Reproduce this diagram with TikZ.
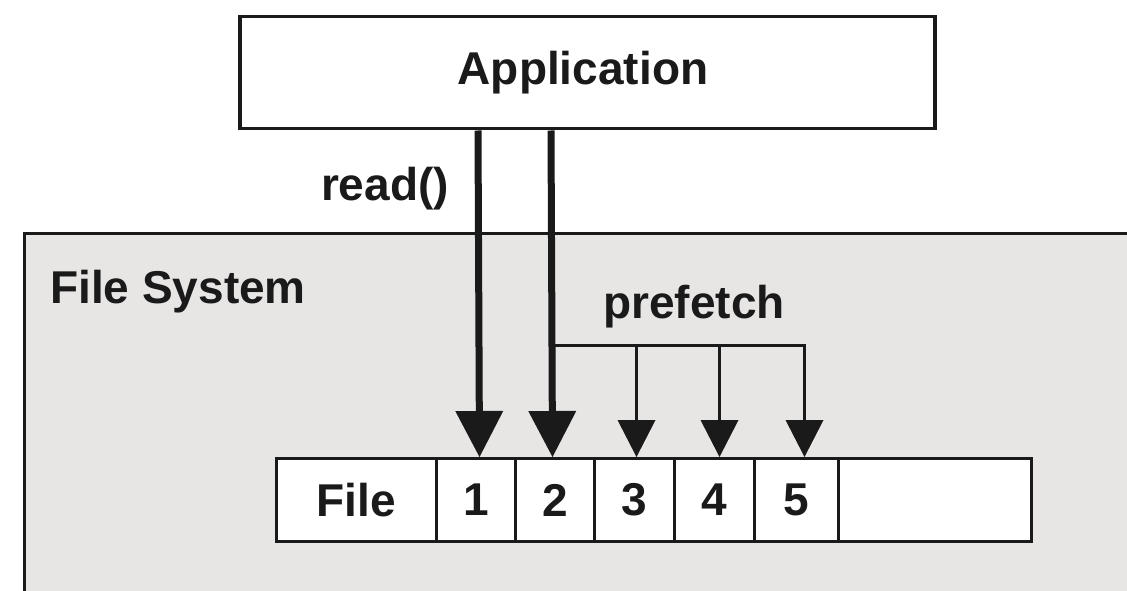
\documentclass[tikz,border=0pt]{standalone}
\usepackage{fontspec}
\setmainfont{Liberation Sans}
\usetikzlibrary{arrows.meta}
\definecolor{fsgray}{HTML}{E8E5E5}
\definecolor{ink}{HTML}{1A1A1A}
\tikzset{
  lbl/.style={font=\fontsize{46}{50}\selectfont\bfseries, text=ink, inner sep=0pt},
  box/.style={draw=ink, line width=3.5pt, fill=white, inner sep=0pt},
  cell/.style={draw=ink, line width=3pt, fill=white, inner sep=0pt,
    minimum height=83pt, font=\fontsize{46}{50}\selectfont\bfseries, text=ink},
  bigarrow/.style={draw=ink, line width=7pt,
    -{Triangle[width=48pt,length=46pt,line width=0pt]}},
  smallarrow/.style={draw=ink, line width=3pt,
    -{Triangle[width=38pt,length=37pt,line width=0pt]}},
}
\begin{document}
\begin{tikzpicture}[x=1pt,y=-1pt]
  \useasboundingbox (0,0) rectangle (1127,591);
  \fill[white] (0,0) rectangle (1127,591);

  % file system region, running off the right and bottom edges
  \node[draw=ink, line width=3pt, fill=fsgray, inner sep=0pt, anchor=north west,
        minimum width=1130pt, minimum height=380pt] (fs) at (23,232) {};
  \node[lbl, anchor=base west] (fslabel) at (50,303) {File System};

  % application box
  \node[box, minimum width=695pt, minimum height=112pt, anchor=north west]
        (app) at (238,15) {};
  \node[lbl, anchor=base] (applabel) at (583,85) {Application};

  % file blocks
  \node[cell, minimum width=160pt, anchor=north west] (file) at (275,457) {File};
  \node[cell, minimum width=79pt, anchor=north west] (c1) at (435,457) {1};
  \node[cell, minimum width=79pt, anchor=north west] (c2) at (514,457) {2};
  \node[cell, minimum width=80pt, anchor=north west] (c3) at (593,457) {3};
  \node[cell, minimum width=80pt, anchor=north west] (c4) at (673,457) {4};
  \node[cell, minimum width=84pt, anchor=north west] (c5) at (753,457) {5};
  \node[cell, minimum width=193pt, anchor=north west] (c6) at (837,457) {};

  % read() calls
  \node[lbl, anchor=base] (readlbl) at (385,200) {read()};
  \draw[bigarrow] (app.south -| 478,0) -- ([xshift=3.5pt]c1.north);
  \draw[bigarrow] (app.south -| 551,0) -- ([xshift=-2.5pt]c2.north);

  % prefetch fan-out
  \node[lbl, anchor=base] (prelbl) at (694,318) {prefetch};
  \coordinate (branch) at (551,345);
  \draw[smallarrow] (branch) -| ([xshift=2pt]c3.north);
  \draw[smallarrow] (branch) -| ([xshift=5pt]c4.north);
  \draw[smallarrow] (branch) -| ([xshift=8pt]c5.north);
\end{tikzpicture}
\end{document}
